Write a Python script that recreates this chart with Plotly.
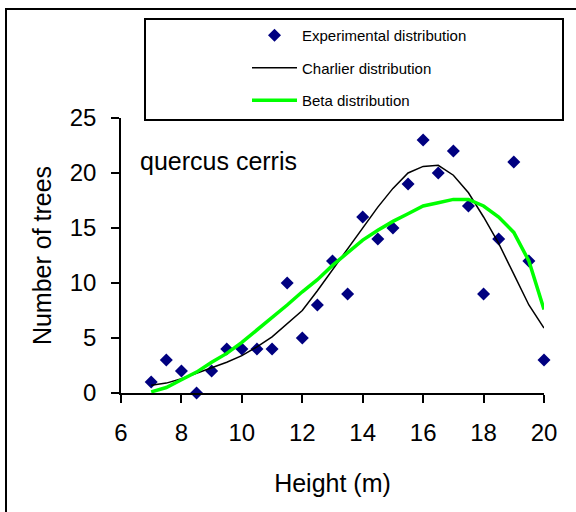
import plotly.graph_objects as go

heights = [7, 7.5, 8, 8.5, 9, 9.5, 10, 10.5, 11, 11.5, 12, 12.5, 13, 13.5,
           14, 14.5, 15, 15.5, 16, 16.5, 17, 17.5, 18, 18.5, 19, 19.5, 20]
experimental = [1, 3, 2, 0, 2, 4, 4, 4, 4, 10, 5, 8, 12, 9,
                16, 14, 15, 19, 23, 20, 22, 17, 9, 14, 21, 12, 3]
charlier = [0.7, 0.9, 1.3, 1.8, 2.3, 2.8, 3.4, 4.2, 5.1, 6.3, 7.5, 9.3, 11.2, 13.0,
            15.0, 16.9, 18.6, 20.0, 20.6, 20.7, 19.8, 18.2, 16.0, 13.6, 10.8, 8.0, 5.9]
beta = [0.1, 0.5, 1.2, 1.9, 2.8, 3.6, 4.6, 5.7, 6.8, 8.0, 9.2, 10.3, 11.6, 12.8,
        13.9, 14.8, 15.6, 16.3, 17.0, 17.3, 17.6, 17.6, 17.0, 16.0, 14.6, 12.0, 7.6]

x_ticks = [6, 8, 10, 12, 14, 16, 18, 20]
y_ticks = [0, 5, 10, 15, 20, 25]

FONT = "Liberation Sans, Arial, sans-serif"

fig = go.Figure()
fig.add_trace(go.Scatter(x=heights, y=experimental, mode="markers",
                         name="Experimental distribution", legendgroup="a",
                         cliponaxis=False,
                         marker=dict(symbol="diamond", size=10, color="#000080")))
fig.add_trace(go.Scatter(x=heights, y=charlier, mode="lines",
                         name="Charlier distribution", legendgroup="b",
                         line=dict(color="black", width=1.5)))
fig.add_trace(go.Scatter(x=heights, y=beta, mode="lines",
                         name="Beta distribution", legendgroup="c",
                         line=dict(color="#00FF00", width=3.5)))

L, R, T, B = 121, 32, 118, 119
W, H = 576, 512
pw, ph = W - L - R, H - T - B

def px(xp):
    return (xp - L) / pw

def py(yp):
    return (H - B - yp) / ph

fig.update_layout(
    width=W, height=H,
    margin=dict(l=L, r=R, t=T, b=B),
    paper_bgcolor="white", plot_bgcolor="white",
    font=dict(family=FONT, color="black"),
    showlegend=True,
    legend=dict(x=px(247), y=py(19), xanchor="left", yanchor="top",
                bgcolor="rgba(0,0,0,0)", borderwidth=0,
                font=dict(size=15, family=FONT), itemwidth=45,
                traceorder="grouped", tracegroupgap=10),
    xaxis=dict(range=[6, 20], tickvals=x_ticks, ticks="outside", ticklen=8,
               tickwidth=1.5, tickcolor="black", showline=True, linecolor="black",
               linewidth=1.5, showgrid=False, zeroline=False,
               tickfont=dict(size=24), ticklabelstandoff=9,
               title=dict(text="Height (m)", font=dict(size=25), standoff=30)),
    yaxis=dict(range=[0, 25], tickvals=y_ticks, ticks="outside", ticklen=8,
               tickwidth=1.5, tickcolor="black", showline=True, linecolor="black",
               linewidth=1.5, showgrid=False, zeroline=False,
               tickfont=dict(size=24), ticklabelstandoff=10,
               title=dict(text="Number of trees", font=dict(size=25), standoff=11)),
    shapes=[
        dict(type="rect", xref="paper", yref="paper",
             x0=px(6), x1=px(620), y0=py(9), y1=py(560),
             line=dict(color="black", width=2), layer="below"),
        dict(type="rect", xref="paper", yref="paper",
             x0=px(145), x1=px(563), y0=py(19), y1=py(120),
             line=dict(color="black", width=2), fillcolor="white", layer="below"),
    ],
    annotations=[
        dict(x=6.55, y=21.1, xref="x", yref="y", text="quercus cerris",
             showarrow=False, xanchor="left", yanchor="middle",
             font=dict(size=25, family=FONT)),
    ],
)

fig.write_html("out.html")
